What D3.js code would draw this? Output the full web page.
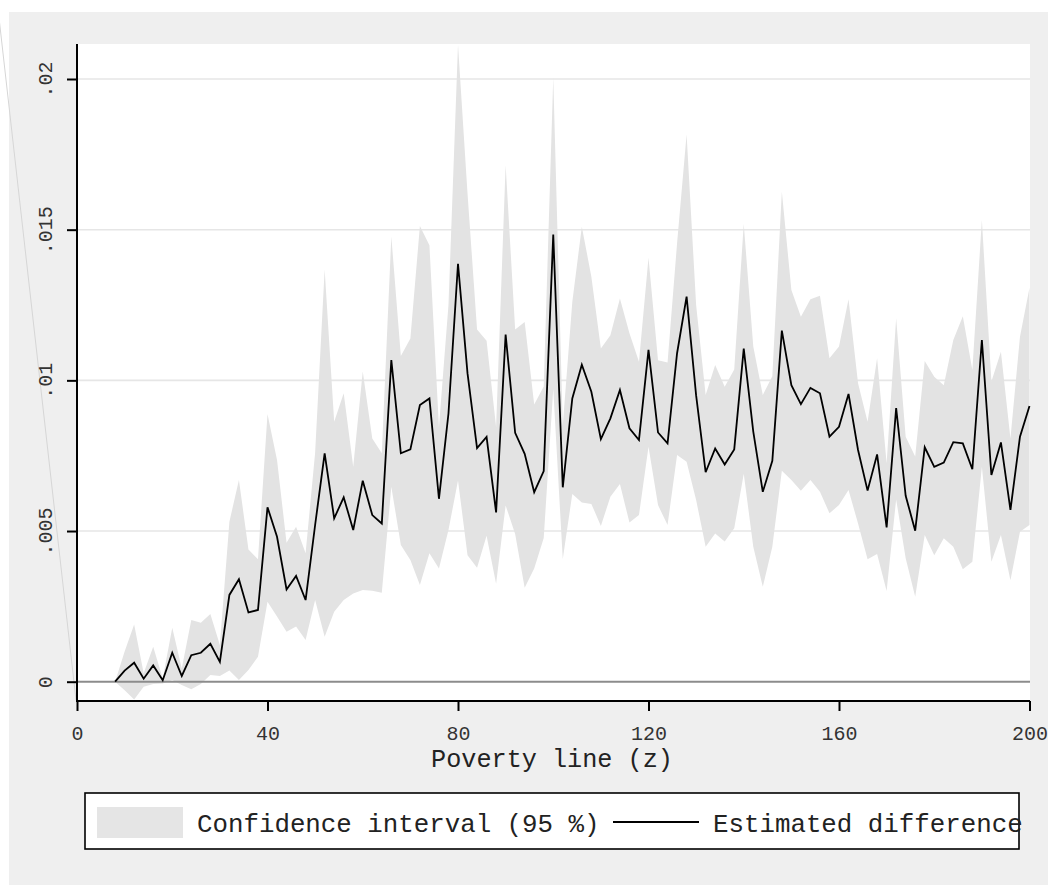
<!DOCTYPE html>
<html>
<head>
<meta charset="utf-8">
<script src="https://cdn.jsdelivr.net/npm/d3@7/dist/d3.min.js"></script>
<style>
  html, body { margin: 0; padding: 0; background: #ffffff; }
  svg { display: block; }
  text { font-family: "Liberation Mono", "Courier New", monospace; }
</style>
</head>
<body>
<svg id="chart" width="1048" height="885"></svg>
<script>
// Poverty lines z = 8, 10, ..., 200
const povertyLine = d3.range(8, 201, 2);

// Estimated difference at each poverty line
const estimate = [
  0.0000, 0.00037, 0.00063, 0.0001, 0.00054, 0.00005, 0.00096, 0.00019, 0.00088, 0.00096,
  0.00126, 0.00066, 0.00288, 0.0034, 0.0023, 0.00238, 0.00579, 0.00481, 0.00306, 0.00351,
  0.00271, 0.0052, 0.00758, 0.00542, 0.00612, 0.00503, 0.00667, 0.00553, 0.00525, 0.01067,
  0.00758, 0.00771, 0.00918, 0.0094, 0.00607, 0.0089, 0.01387, 0.01023, 0.00775, 0.00812,
  0.00562, 0.01152, 0.00826, 0.00756, 0.00629, 0.00699, 0.01484, 0.00645, 0.0094, 0.01052,
  0.00962, 0.00805, 0.00874, 0.00968, 0.00841, 0.00802, 0.01101, 0.00827, 0.00791, 0.0109,
  0.01278, 0.0095, 0.00695, 0.00774, 0.00721, 0.00771, 0.01105, 0.0083, 0.0063, 0.00733,
  0.01165, 0.00984, 0.00921, 0.00975, 0.00957, 0.00813, 0.00846, 0.00955, 0.00769, 0.00634,
  0.00754, 0.00512, 0.00908, 0.00617, 0.00501, 0.00778, 0.00713, 0.00727, 0.00795, 0.00791,
  0.00705, 0.01134, 0.00686, 0.00794, 0.0057, 0.00813, 0.00915
];

// Upper bound of the 95 % confidence interval
const upperCI = [
  0.0000, 0.001, 0.0019, 0.00028, 0.00116, 0.00011, 0.00179, 0.00044, 0.00205, 0.00196,
  0.00225, 0.00122, 0.00531, 0.00669, 0.00439, 0.00406, 0.00888, 0.00736, 0.00461, 0.00514,
  0.00426, 0.0076, 0.01368, 0.00863, 0.00957, 0.00713, 0.01029, 0.00807, 0.00758, 0.01477,
  0.01081, 0.01139, 0.01512, 0.01448, 0.00845, 0.0125, 0.02114, 0.0162, 0.01169, 0.01131,
  0.00845, 0.01714, 0.01169, 0.01194, 0.0092, 0.0098, 0.02004, 0.0085, 0.0126, 0.0151,
  0.01344, 0.01106, 0.0115, 0.01272, 0.01156, 0.01062, 0.01407, 0.01067, 0.01059, 0.01455,
  0.01816, 0.0125, 0.00951, 0.01051, 0.00979, 0.01036, 0.01519, 0.01112, 0.00951, 0.01014,
  0.01626, 0.013, 0.01211, 0.01269, 0.01281, 0.01073, 0.01112, 0.01269, 0.0099, 0.00863,
  0.01073, 0.00725, 0.01206, 0.00813, 0.00747, 0.01064, 0.01012, 0.00984, 0.01134, 0.01213,
  0.01034, 0.01532, 0.00996, 0.01095, 0.00807, 0.01145, 0.01307
];

// Lower bound of the 95 % confidence interval
const lowerCI = [
  0.0000, -0.00028, -0.00059, -0.00017, -0.00008, -0.00006, 0.00006, -0.00011, -0.00025, -0.00008,
  0.00022, 0.00019, 0.00037, 0.00006, 0.00039, 0.00083, 0.00265, 0.00216, 0.00166, 0.00183,
  0.00138, 0.00271, 0.00149, 0.00232, 0.00271, 0.00293, 0.00304, 0.00302, 0.00295, 0.00647,
  0.00454, 0.00404, 0.00321, 0.00426, 0.00376, 0.00503, 0.00668, 0.0042, 0.00378, 0.00484,
  0.00325, 0.00585, 0.0049, 0.00312, 0.00376, 0.00477, 0.00972, 0.00407, 0.00623, 0.00595,
  0.0059, 0.00517, 0.00614, 0.00656, 0.00528, 0.00553, 0.0078, 0.00586, 0.0052, 0.00752,
  0.0073, 0.00603, 0.00448, 0.00492, 0.00465, 0.00509, 0.0069, 0.00448, 0.00315, 0.00448,
  0.007, 0.00669, 0.00634, 0.00669, 0.0063, 0.00559, 0.00586, 0.00636, 0.00525, 0.00406,
  0.00424, 0.00301, 0.00605, 0.0041, 0.00282, 0.00487, 0.0042, 0.00476, 0.00448, 0.00373,
  0.00398, 0.00713, 0.00398, 0.00487, 0.00337, 0.00498, 0.0052
];

const xTicks = [0, 40, 80, 120, 160, 200];
const yTicks = [0, 0.005, 0.01, 0.015, 0.02];
const yTickLabels = ["0", ".005", ".01", ".015", ".02"];
const xTitle = "Poverty line (z)";
const legendLabels = ["Confidence interval (95 %)", "Estimated difference"];

const rows = povertyLine.map((z, i) => ({ z, est: estimate[i], hi: upperCI[i], lo: lowerCI[i] }));

const svg = d3.select("#chart");

// Plot region bounds
const plot = { left: 77, right: 1030, top: 44, bottom: 701 };

const x = d3.scaleLinear().domain([0, 200]).range([77, 1029.5]);
const y = d3.scaleLinear().domain([0, 0.02]).range([681.7, 79]);

// Outer graph region
svg.append("rect")
  .attr("x", 9).attr("y", 12).attr("width", 1039).attr("height", 873)
  .attr("fill", "#efefef");

svg.append("line")
  .attr("x1", -3).attr("y1", 0).attr("x2", 76).attr("y2", 700)
  .attr("stroke", "#d6d6d6").attr("stroke-width", 1);

// Inner plot region
svg.append("rect")
  .attr("x", plot.left).attr("y", plot.top)
  .attr("width", plot.right - plot.left).attr("height", plot.bottom - plot.top)
  .attr("fill", "#ffffff");

// Horizontal grid lines
svg.append("g")
  .selectAll("line")
  .data(yTicks.filter(d => d !== 0))
  .join("line")
  .attr("x1", plot.left).attr("x2", plot.right)
  .attr("y1", d => y(d)).attr("y2", d => y(d))
  .attr("stroke", "#e6e6e6").attr("stroke-width", 1.6);

// Confidence band
const band = d3.area()
  .x(d => x(d.z))
  .y0(d => y(d.lo))
  .y1(d => y(d.hi));

svg.append("path")
  .datum(rows)
  .attr("d", band)
  .attr("fill", "#e3e3e3");

// Zero reference line
svg.append("line")
  .attr("x1", plot.left).attr("x2", plot.right)
  .attr("y1", y(0)).attr("y2", y(0))
  .attr("stroke", "#8c8c8c").attr("stroke-width", 2);

// Estimated difference
const line = d3.line()
  .x(d => x(d.z))
  .y(d => y(d.est));

svg.append("path")
  .datum(rows)
  .attr("d", line)
  .attr("fill", "none")
  .attr("stroke", "#000000")
  .attr("stroke-width", 1.8)
  .attr("stroke-linejoin", "miter");

// Y axis
const yAxis = d3.axisLeft(y)
  .tickValues(yTicks)
  .tickSize(10)
  .tickPadding(0)
  .tickFormat((d, i) => yTickLabels[i]);

const gy = svg.append("g")
  .attr("transform", `translate(${plot.left},0)`)
  .call(yAxis);
gy.select(".domain").remove();
gy.selectAll(".tick line").attr("stroke", "#000").attr("stroke-width", 2);
gy.selectAll(".tick text")
  .attr("x", null).attr("dy", null)
  .attr("text-anchor", "middle")
  .attr("transform", "translate(-25,0) rotate(-90)")
  .attr("font-size", 20)
  .attr("font-family", "Liberation Mono, Courier New, monospace")
  .attr("fill", "#333");
svg.append("line")
  .attr("x1", plot.left).attr("x2", plot.left)
  .attr("y1", plot.top).attr("y2", plot.bottom + 1)
  .attr("stroke", "#000").attr("stroke-width", 2);

// X axis
const xAxis = d3.axisBottom(x)
  .tickValues(xTicks)
  .tickSize(10)
  .tickPadding(0)
  .tickFormat(d3.format("d"));

const gx = svg.append("g")
  .attr("transform", `translate(0,${plot.bottom})`)
  .call(xAxis);
gx.select(".domain").remove();
gx.selectAll(".tick line").attr("stroke", "#000").attr("stroke-width", 2);
gx.selectAll(".tick text")
  .attr("y", 39).attr("dy", null)
  .attr("font-size", 20)
  .attr("font-family", "Liberation Mono, Courier New, monospace")
  .attr("fill", "#333");
svg.append("line")
  .attr("x1", plot.left - 1).attr("x2", plot.right)
  .attr("y1", plot.bottom).attr("y2", plot.bottom)
  .attr("stroke", "#000").attr("stroke-width", 2);

// X axis title
svg.append("text")
  .attr("x", 552).attr("y", 767)
  .attr("text-anchor", "middle")
  .attr("font-size", 25.2)
  .attr("fill", "#222")
  .text(xTitle);

// Legend
const legend = svg.append("g");
legend.append("rect")
  .attr("x", 85).attr("y", 793).attr("width", 934).attr("height", 56)
  .attr("fill", "#ffffff").attr("stroke", "#000").attr("stroke-width", 1.6);
legend.append("rect")
  .attr("x", 97).attr("y", 807).attr("width", 86).attr("height", 31)
  .attr("fill", "#e5e5e5");
legend.append("text")
  .attr("x", 197).attr("y", 832)
  .attr("font-size", 25.8)
  .attr("fill", "#222")
  .text(legendLabels[0]);
legend.append("line")
  .attr("x1", 613).attr("x2", 699).attr("y1", 822).attr("y2", 822)
  .attr("stroke", "#000").attr("stroke-width", 2);
legend.append("text")
  .attr("x", 713).attr("y", 832)
  .attr("font-size", 25.8)
  .attr("fill", "#222")
  .text(legendLabels[1]);
</script>
</body>
</html>
